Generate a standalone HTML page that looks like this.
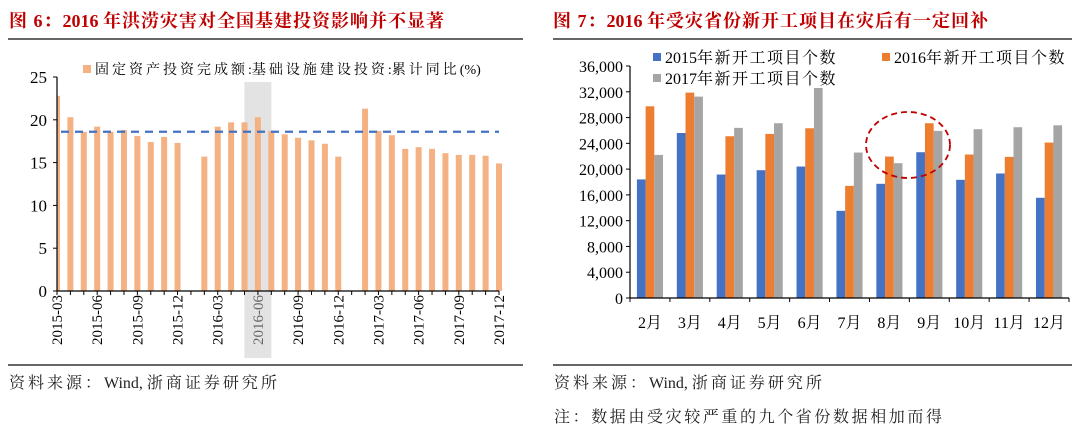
<!DOCTYPE html>
<html><head><meta charset="utf-8"><style>
body{margin:0;background:#fff;width:1080px;height:434px;overflow:hidden;font-family:"Liberation Serif","Noto Serif CJK SC",serif;}
svg{display:block}
</style></head><body>
<svg id="s" width="1080" height="434" font-family="Liberation Serif, Noto Serif CJK SC, serif">
<text x="9" y="27" font-size="18" font-weight="bold" fill="#C00000"><tspan letter-spacing="1">图 6：</tspan>2016 <tspan letter-spacing="1">年洪涝灾害对全国基建投资影响并不显著</tspan></text>
<line x1="8" y1="39" x2="523" y2="39" stroke="#333" stroke-width="1.5"/>
<text x="553" y="27" font-size="18" font-weight="bold" fill="#C00000"><tspan letter-spacing="1">图 7：</tspan>2016 <tspan letter-spacing="1">年受灾省份新开工项目在灾后有一定回补</tspan></text>
<line x1="553" y1="39" x2="1072" y2="39" stroke="#333" stroke-width="1.5"/>
<line x1="8" y1="365" x2="523" y2="365" stroke="#333" stroke-width="1.5"/>
<line x1="553" y1="365" x2="1072" y2="365" stroke="#333" stroke-width="1.5"/>
<text x="9" y="388" font-size="16" fill="#222"><tspan letter-spacing="3">资料来源：</tspan>Wind, <tspan letter-spacing="3">浙商证券研究所</tspan></text>
<text x="554" y="388" font-size="16" fill="#222"><tspan letter-spacing="3">资料来源：</tspan>Wind, <tspan letter-spacing="3">浙商证券研究所</tspan></text>
<text x="554" y="422" font-size="16" fill="#222" letter-spacing="2.6">注：数据由受灾较严重的九个省份数据相加而得</text>
<g id="L"></g>
<g id="R"></g>
</svg>
<script>
const leftCats=['2015-03','2015-04','2015-05','2015-06','2015-07','2015-08','2015-09','2015-10','2015-11','2015-12','2016-01','2016-02','2016-03','2016-04','2016-05','2016-06','2016-07','2016-08','2016-09','2016-10','2016-11','2016-12','2017-01','2017-02','2017-03','2017-04','2017-05','2017-06','2017-07','2017-08','2017-09','2017-10','2017-11','2017-12'];
const leftVals=[22.8,20.3,18.6,19.2,18.6,18.8,18.1,17.4,18.0,17.3,null,15.7,19.2,19.7,19.7,20.3,18.7,18.3,17.9,17.6,17.2,15.7,null,21.3,18.7,18.2,16.6,16.8,16.6,16.1,15.9,15.9,15.8,14.9];
const leftTicks=[0,5,10,15,20,25];
const leftRef=18.6;
const leftHighlight='2016-06';
const months=['2月','3月','4月','5月','6月','7月','8月','9月','10月','11月','12月'];
const s2015=[18400,25600,19160,19830,20400,13530,17720,22620,18340,19320,15550];
const s2016=[29750,31870,25100,25460,26340,17400,21950,27120,22260,21900,24120];
const s2017=[22200,31250,26400,27120,32590,22570,20920,25930,26190,26500,26800];
const rightTicks=[0,4000,8000,12000,16000,20000,24000,28000,32000,36000];
const NS='http://www.w3.org/2000/svg';
function mk(p,t,a){const e=document.createElementNS(NS,t);for(const k in a)e.setAttribute(k,a[k]);p.appendChild(e);return e;}
function runs(el,str,ls){(str.match(/[\x00-\x7f]+|[^\x00-\x7f]+/g)||[]).forEach(r=>{const t=mk(el,'tspan',{});if(/[^\x00-\x7f]/.test(r))t.setAttribute('letter-spacing',ls);t.textContent=r;});}
// LEFT
(function(){
const g=document.getElementById('L');
const x0=57,x1=499,y0=291,yT=77,max=25;
const y=v=>y0-(v/max)*(y0-yT);
const step=(x1-x0)/(leftCats.length-1);
const x=i=>x0+i*step;
const hi=leftCats.indexOf(leftHighlight);
const sh=mk(g,'rect',{x:x(hi)-13.5,y:82,width:27,height:276,fill:'#dcdcdc',opacity:0.8});


leftVals.forEach((v,i)=>{if(v==null)return;
const bx=Math.max(x0,x(i)-3);const bw=x(i)+3-bx;
const r=mk(g,'rect',{x:bx,y:y(v),width:bw,height:y0-y(v),fill:'#F4B183'});

});
const rl=mk(g,'line',{x1:61,x2:x1,y1:y(leftRef),y2:y(leftRef),stroke:'#4472C4','stroke-width':2.2,'stroke-dasharray':'8,6'});


mk(g,'line',{x1:x0,x2:x0,y1:yT,y2:y0,stroke:'#000','stroke-width':1.2});
mk(g,'line',{x1:x0,x2:x1,y1:y0,y2:y0,stroke:'#000','stroke-width':1.2});
leftTicks.forEach(t=>{mk(g,'line',{x1:x0-4,x2:x0,y1:y(t),y2:y(t),stroke:'#000'});
const tx=mk(g,'text',{x:x0-10,y:y(t)+6,'font-size':17,'text-anchor':'end',fill:'#000'});tx.textContent=t;

});
leftCats.forEach((c,i)=>{mk(g,'line',{x1:x(i),x2:x(i),y1:y0,y2:y0+4,stroke:'#000'});
if(i%3===0){const tx=mk(g,'text',{x:0,y:0,'font-size':15,'text-anchor':'end',fill:i===hi?'#666':'#000',transform:`translate(${x(i)+5},${y0+4}) rotate(-90)`});tx.textContent=c;

}});
const lg=mk(g,'rect',{x:83,y:65,width:8,height:8,fill:'#F4B183'});


const lt=mk(g,'text',{x:95,y:74,'font-size':14,fill:'#000'});
runs(lt,'固定资产投资完成额:基础设施建设投资:累计同比(%)',3);


})();
// RIGHT
(function(){
const g=document.getElementById('R');
const x0=630,x1=1069,y0=298,yT=66,max=36000;
const y=v=>y0-(v/max)*(y0-yT);
const slot=(x1-x0)/months.length,bw=8.7;
const series=[[s2015,'#4472C4','2015'],[s2016,'#ED7D31','2016'],[s2017,'#A5A5A5','2017']];
series.forEach(([arr,col,nm],si)=>{arr.forEach((v,i)=>{const cx=x0+slot*(i+0.5);
const r=mk(g,'rect',{x:cx-1.5*bw+si*bw,y:y(v),width:bw,height:y0-y(v),fill:col});

});});
mk(g,'line',{x1:x0,x2:x0,y1:yT,y2:y0,stroke:'#000','stroke-width':1.2});
mk(g,'line',{x1:x0,x2:x1,y1:y0,y2:y0,stroke:'#000','stroke-width':1.2});
rightTicks.forEach(t=>{mk(g,'line',{x1:x0-4,x2:x0,y1:y(t),y2:y(t),stroke:'#000'});
const tx=mk(g,'text',{x:x0-7,y:y(t)+6,'font-size':16,'text-anchor':'end',fill:'#000'});tx.textContent=t.toLocaleString('en-US');

});
for(let i=0;i<=months.length;i++)mk(g,'line',{x1:x0+slot*i,x2:x0+slot*i,y1:y0,y2:y0+4,stroke:'#000'});
months.forEach((m,i)=>{const tx=mk(g,'text',{x:x0+slot*(i+0.5),y:328,'font-size':16,'text-anchor':'middle',fill:'#000'});tx.textContent=m;

});
const el=mk(g,'ellipse',{cx:908,cy:145,rx:42,ry:33,fill:'none',stroke:'#C00000','stroke-width':1.8,'stroke-dasharray':'6,4'});


const leg=[[657,57,'#4472C4','2015年新开工项目个数'],[886,57,'#ED7D31','2016年新开工项目个数'],[657,78,'#A5A5A5','2017年新开工项目个数']];
leg.forEach(([lx,ly,c,t])=>{const r=mk(g,'rect',{x:lx-4,y:ly-4,width:8,height:8,fill:c});


const tx=mk(g,'text',{x:lx+8,y:ly+6,'font-size':16,fill:'#000'});
runs(tx,t,1.5);

});
})();
</script>
</body></html>
